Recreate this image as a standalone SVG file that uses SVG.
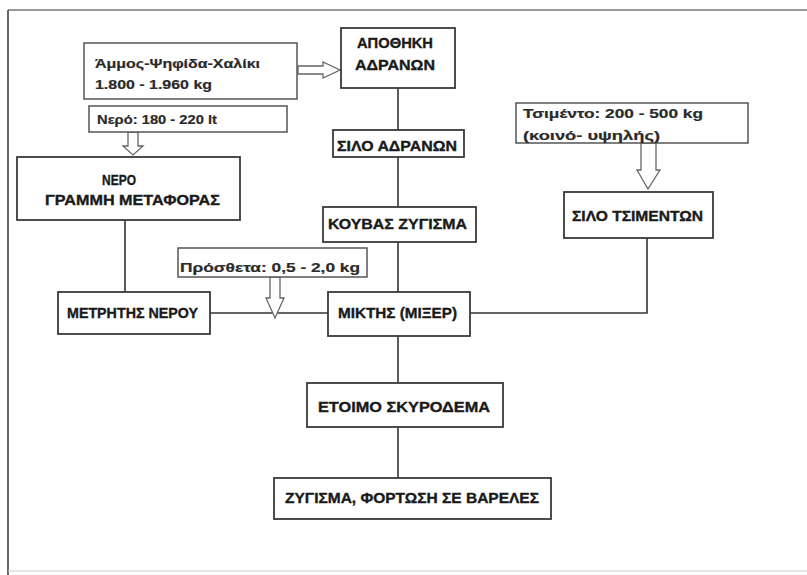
<svg xmlns="http://www.w3.org/2000/svg" width="807" height="575" viewBox="0 0 807 575">
<style>
  .box { fill: #fff; stroke: #3a3a3a; stroke-width: 1.8; }
  .lbl { font-family: "Liberation Sans", Arial, sans-serif; font-weight: bold; font-size: 14.5px; fill: #1a1a1a; stroke: #1a1a1a; stroke-width: 0.35; text-anchor: middle; }
  .note { font-family: "Liberation Sans", Arial, sans-serif; font-weight: bold; font-size: 13.5px; fill: #2a2a2a; stroke: #2a2a2a; stroke-width: 0.2; }
  .nbox { fill: #fff; stroke: #555; stroke-width: 1.5; }
  .conn { stroke: #333; stroke-width: 1.6; fill: none; }
  .harrow { fill: #fff; stroke: #666; stroke-width: 1.3; stroke-linejoin: miter; }
</style>
<rect width="807" height="575" fill="#fff"/>
<g id="frame">
  <line x1="8" y1="10" x2="807" y2="10" stroke="#777" stroke-width="1.5"/>
  <line x1="8" y1="10" x2="8" y2="575" stroke="#444" stroke-width="1.6"/>
  <line x1="8" y1="571" x2="807" y2="571" stroke="#ccc" stroke-width="1"/>
</g>
<g id="connectors">
  <line class="conn" x1="398" y1="88" x2="398" y2="130"/>
  <line class="conn" x1="398" y1="157" x2="398" y2="207"/>
  <line class="conn" x1="398" y1="242" x2="398" y2="292"/>
  <line class="conn" x1="398" y1="336" x2="398" y2="383"/>
  <line class="conn" x1="398" y1="427" x2="398" y2="478"/>
  <line class="conn" x1="125" y1="220" x2="125" y2="292"/>
  <line class="conn" x1="210" y1="313" x2="328" y2="313"/>
  <polyline class="conn" points="470,313 647,313 647,238"/>
  <polygon class="harrow" points="298,66 323,66 323,62 340,70 323,78 323,74 298,74"/>
  <polygon class="harrow" points="128,132 138,132 138,146 143,146 133,155 123,146 128,146"/>
  <polygon class="harrow" points="270,277 280,277 280,298 284,298 275,318 266,298 270,298"/>
  <polygon class="harrow" points="641,143 656,143 656,170 660,170 648,189 637,170 641,170"/>
</g>
<g id="n-apothiki">
  <rect class="box" x="341" y="28" width="114" height="60"/>
  <text class="lbl" x="395" y="48" textLength="76" lengthAdjust="spacingAndGlyphs">ΑΠΟΘΗΚΗ</text>
  <text class="lbl" x="395" y="70" textLength="80" lengthAdjust="spacingAndGlyphs">ΑΔΡΑΝΩΝ</text>
</g>
<g id="n-silo-adranon">
  <rect class="box" x="333" y="130" width="131" height="27"/>
  <text class="lbl" x="397" y="151" textLength="120" lengthAdjust="spacingAndGlyphs">ΣΙΛΟ ΑΔΡΑΝΩΝ</text>
</g>
<g id="n-kouvas">
  <rect class="box" x="323" y="207" width="153" height="35"/>
  <text class="lbl" x="397.5" y="229" textLength="139" lengthAdjust="spacingAndGlyphs">ΚΟΥΒΑΣ ΖΥΓΙΣΜΑ</text>
</g>
<g id="n-miktis">
  <rect class="box" x="328" y="292" width="142" height="44"/>
  <text class="lbl" x="397.5" y="318" textLength="119" lengthAdjust="spacingAndGlyphs">ΜΙΚΤΗΣ (ΜΙΞΕΡ)</text>
</g>
<g id="n-silo-tsimenton">
  <rect class="box" x="564" y="192" width="149" height="46"/>
  <text class="lbl" x="637.5" y="221" textLength="131" lengthAdjust="spacingAndGlyphs">ΣΙΛΟ ΤΣΙΜΕΝΤΩΝ</text>
</g>
<g id="n-nero">
  <rect class="box" x="17" y="157" width="223" height="63"/>
  <text class="lbl" x="119" y="185" textLength="34" lengthAdjust="spacingAndGlyphs">ΝΕΡΟ</text>
  <text class="lbl" x="132.5" y="205" textLength="175" lengthAdjust="spacingAndGlyphs">ΓΡΑΜΜΗ  ΜΕΤΑΦΟΡΑΣ</text>
</g>
<g id="n-metritis">
  <rect class="box" x="58" y="292" width="152" height="42"/>
  <text class="lbl" x="132.5" y="318" textLength="131" lengthAdjust="spacingAndGlyphs">ΜΕΤΡΗΤΗΣ ΝΕΡΟΥ</text>
</g>
<g id="n-etoimo">
  <rect class="box" x="307" y="383" width="196" height="44"/>
  <text class="lbl" x="404" y="412" textLength="172" lengthAdjust="spacingAndGlyphs">ΕΤΟΙΜΟ  ΣΚΥΡΟΔΕΜΑ</text>
</g>
<g id="n-zygisma">
  <rect class="box" x="274" y="478" width="277" height="41"/>
  <text class="lbl" x="412" y="503" textLength="254" lengthAdjust="spacingAndGlyphs">ΖΥΓΙΣΜΑ, ΦΟΡΤΩΣΗ ΣΕ ΒΑΡΕΛΕΣ</text>
</g>
<g id="n-ammos">
  <rect class="nbox" x="84" y="43" width="213" height="56"/>
  <text class="note" x="95" y="68" textLength="165" lengthAdjust="spacingAndGlyphs">Άμμος-Ψηφίδα-Χαλίκι</text>
  <text class="note" x="95" y="89" textLength="117" lengthAdjust="spacingAndGlyphs">1.800 - 1.960 kg</text>
</g>
<g id="n-nero-note">
  <rect class="nbox" x="89" y="106" width="198" height="26"/>
  <text class="note" x="97" y="124" textLength="120" lengthAdjust="spacingAndGlyphs">Νερό: 180 - 220 lt</text>
</g>
<g id="n-prostheta">
  <rect class="nbox" x="178" y="248" width="189" height="29"/>
  <text class="note" x="180" y="272" font-size="16" textLength="180" lengthAdjust="spacingAndGlyphs">Πρόσθετα: 0,5 - 2,0 kg</text>
</g>
<g id="n-tsimento">
  <rect class="nbox" x="516" y="103" width="232" height="40"/>
  <text class="note" x="523" y="118" textLength="180" lengthAdjust="spacingAndGlyphs">Τσιμέντο: 200 - 500 kg</text>
  <text class="note" x="523" y="140" textLength="137" lengthAdjust="spacingAndGlyphs">(κοινό- υψηλής)</text>
</g>
</svg>
